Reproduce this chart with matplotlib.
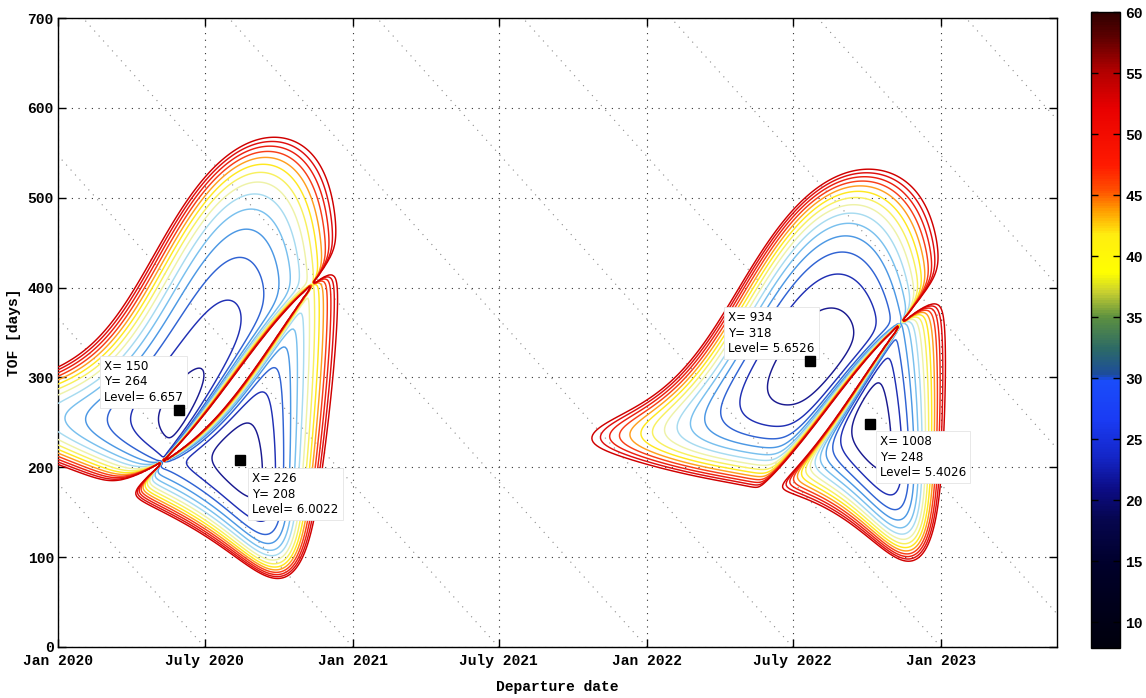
# -*- coding: utf-8 -*-
"""
Earth -> Mars porkchop plot, arrival C3 [km^2/s^2] vs departure date and TOF
"""
import numpy as np
import matplotlib
matplotlib.use('Agg')
import matplotlib.pyplot as plt
from matplotlib.colors import LinearSegmentedColormap, Normalize
from matplotlib.cm import ScalarMappable

# ---- data -------------------------------------------------------------
start_date = '2020-01-01'
tick_dates = ['2020-01-01', '2020-07-01', '2021-01-01', '2021-07-01',
              '2022-01-01', '2022-07-01', '2023-01-01']
tick_labels = ['Jan 2020', 'July 2020', 'Jan 2021', 'July 2021',
               'Jan 2022', 'July 2022', 'Jan 2023']
# arrival date guide lines (departure + tof = const)
arrival_dates = ['2020-07-01', '2021-01-01', '2021-07-01', '2022-01-01', '2022-07-01',
                 '2023-01-01', '2023-07-01', '2024-01-01', '2024-07-01', '2025-01-01']

c3_levels = [8, 12, 16, 20, 24, 28, 32, 36, 40, 44, 48, 52, 56, 60]

tip_x = [150, 226, 934, 1008]
tip_y = [264, 208, 318, 248]
tip_level = ['6.657', '6.0022', '5.6526', '5.4026']

# mean orbital elements (J2000) a[AU], e, i, L, long.peri, long.node [deg] and rates per century
earth_el = [1.00000261, 0.01671123, -0.00001531, 100.46457166, 102.93768193, 0.0]
earth_rate = [0.00000562, -0.00004392, -0.01294668, 35999.37244981, 0.32327364, 0.0]
mars_el = [1.52371034, 0.09339410, 1.84969142, -4.55343205, -23.94362959, 49.55953891]
mars_rate = [0.00001847, 0.00007882, -0.00813131, 19140.30268499, 0.44441088, -0.29257343]

MU = 0.01720209895**2          # AU^3/day^2
AU_DAY_KMS = 149597870.7 / 86400.0
J2000 = 2451545.0
EPOCH_JD = 2458849.5           # 2020-01-01


def days(d):
    return (np.datetime64(d) - np.datetime64(start_date)).astype(int)


def state(el, rate, day):
    T = (EPOCH_JD + day - J2000) / 36525.0
    a, e, inc, L, wbar, node = [el[k] + rate[k] * T for k in range(6)]
    inc, L, wbar, node = np.radians(inc), np.radians(L), np.radians(wbar), np.radians(node)
    M = np.mod(L - wbar, 2 * np.pi)
    w = wbar - node
    E = M.copy()
    for _ in range(20):
        E = E - (E - e * np.sin(E) - M) / (1 - e * np.cos(E))
    n = np.sqrt(MU / a**3)
    xp = a * (np.cos(E) - e)
    yp = a * np.sqrt(1 - e**2) * np.sin(E)
    Ed = n / (1 - e * np.cos(E))
    vxp = -a * np.sin(E) * Ed
    vyp = a * np.sqrt(1 - e**2) * np.cos(E) * Ed
    cw, sw, cO, sO, ci, si = np.cos(w), np.sin(w), np.cos(node), np.sin(node), np.cos(inc), np.sin(inc)
    P = np.stack([cw * cO - sw * sO * ci, cw * sO + sw * cO * ci, sw * si], -1)
    Q = np.stack([-sw * cO - cw * sO * ci, -sw * sO + cw * cO * ci, cw * si], -1)
    r = xp[..., None] * P + yp[..., None] * Q
    v = vxp[..., None] * P + vyp[..., None] * Q
    return r, v


def stumpff(z):
    s = np.sqrt(np.abs(z))
    zs = np.where(np.abs(z) < 1e-6, 1.0, z)
    ss = np.where(s < 1e-3, 1.0, s)
    C = np.where(z > 1e-6, (1 - np.cos(s)) / zs, np.where(z < -1e-6, (np.cosh(s) - 1) / (-zs), 0.5))
    S = np.where(z > 1e-6, (ss - np.sin(ss)) / ss**3,
                 np.where(z < -1e-6, (np.sinh(ss) - ss) / ss**3, 1 / 6.0))
    return C, S


# ---- lambert grid -----------------------------------------------------
dep = np.arange(0, 1241, 2.0)
tof = np.arange(2, 701, 2.0)
D, TT = np.meshgrid(dep, tof)

rE, vE = state(earth_el, earth_rate, dep)
rM, vM = state(mars_el, mars_rate, D + TT)
r1 = np.broadcast_to(rE[None], rM.shape)
R1 = np.linalg.norm(r1, axis=-1)
R2 = np.linalg.norm(rM, axis=-1)
cz = r1[..., 0] * rM[..., 1] - r1[..., 1] * rM[..., 0]
cth = np.clip(np.sum(r1 * rM, -1) / (R1 * R2), -1, 1)
dth = np.where(cz >= 0, np.arccos(cth), 2 * np.pi - np.arccos(cth))
A = np.sin(dth) * np.sqrt(R1 * R2 / (1 - np.cos(dth)))


def tof_z(z):
    C, S = stumpff(z)
    y = R1 + R2 + A * (z * S - 1) / np.sqrt(C)
    yp = np.where(y > 0, y, 1.0)
    t = ((yp / C)**1.5 * S + A * np.sqrt(yp)) / np.sqrt(MU)
    return np.where(y > 0, t, -np.inf), y


with np.errstate(all='ignore'):
    lo = np.full(D.shape, -60.0)
    hi = np.full(D.shape, 4 * np.pi**2 - 1e-6)
    bad = tof_z(lo)[0] > TT
    for _ in range(48):
        mid = 0.5 * (lo + hi)
        t, _y = tof_z(mid)
        m = t < TT
        lo = np.where(m, mid, lo)
        hi = np.where(m, hi, mid)
    z = 0.5 * (lo + hi)
    t, y = tof_z(z)
    g = A * np.sqrt(y / MU)
    gd = 1 - y / R2
    v2 = (gd[..., None] * rM - r1) / g[..., None]
    vinf = np.linalg.norm(v2 - vM, axis=-1) * AU_DAY_KMS
    c3 = vinf**2
    c3 = np.where(bad | ~np.isfinite(c3), 1e4, c3)

# ---- colours ----------------------------------------------------------
cb_cmap = LinearSegmentedColormap.from_list('scan', [
    (0.0, '#00000c'), (0.13, '#00002a'), (0.2, '#06064e'), (0.25, '#0c0c86'),
    (0.3, '#1426c8'), (0.36, '#1a3cf4'), (0.42, '#1a4cfa'), (0.43, '#1c4c9c'),
    (0.47, '#2c6a66'), (0.52, '#5c9040'), (0.56, '#c8d030'), (0.59, '#ffff00'),
    (0.65, '#ffee10'), (0.69, '#ff9a00'), (0.72, '#ff5000'), (0.76, '#ff1a00'),
    (0.85, '#e80000'), (0.91, '#b00000'), (0.96, '#600000'), (1.0, '#300000')])
line_cmap = LinearSegmentedColormap.from_list('lines', [
    (0.0, '#1a1a90'), (0.079, '#2030b4'), (0.155, '#3064d4'), (0.232, '#4c98e4'),
    (0.309, '#78c0ee'), (0.386, '#a8dcf0'), (0.463, '#eef2a8'), (0.539, '#f8f060'),
    (0.616, '#ffe820'), (0.693, '#ffa020'), (0.77, '#f84018'), (0.846, '#ec2010'),
    (0.923, '#e01010'), (1.0, '#d00000')])
norm = Normalize(vmin=7.9, vmax=60)

mono = 'Liberation Mono'
sans = 'DejaVu Sans'

fig = plt.figure(figsize=(11.46, 6.98), dpi=100)
ax = fig.add_axes([0.0506, 0.0731, 0.8717, 0.9011])

ax.contour(D, TT, c3, levels=c3_levels, cmap=line_cmap, norm=norm, linewidths=1.05, zorder=3)

# arrival date guide lines
for ad in arrival_dates:
    c = days(ad)
    ax.plot([c, c - 800], [0, 800], color='#8a8a8a', lw=0.8, ls=(0, (1, 5)), zorder=1)

ax.set_xlim(0, 1240)
ax.set_ylim(0, 700)
ax.set_xticks([days(d) for d in tick_dates])
ax.set_xticklabels(tick_labels)
ax.set_yticks([0, 100, 200, 300, 400, 500, 600, 700])
ax.grid(True, color='#303030', lw=0.8, ls=(0, (1, 5)), zorder=0)
ax.tick_params(direction='in', length=6, width=1, top=True, right=True)
ax.tick_params(axis='x', pad=5)
ax.tick_params(axis='y', pad=3)
for lab in ax.get_xticklabels() + ax.get_yticklabels():
    lab.set_fontfamily(mono)
    lab.set_fontweight('bold')
    lab.set_fontsize(10.5)
for sp in ax.spines.values():
    sp.set_linewidth(1.0)
ax.set_xlabel('Departure date', fontfamily=mono, fontweight='bold', fontsize=10.5, labelpad=9)
ax.set_ylabel('TOF [days]', fontfamily=mono, fontweight='bold', fontsize=10.5, labelpad=5)

# data tips
offs = [(-75, 50), (12, -12), (-82, 50), (10, -11)]
for x, y, lev, off in zip(tip_x, tip_y, tip_level, offs):
    ax.plot(x, y, 's', color='black', ms=7, zorder=6)
    ax.annotate('X= %d\nY= %d\nLevel= %s' % (x, y, lev), (x, y), xytext=off,
                textcoords='offset pixels', ha='left', va='top', fontsize=8.6,
                fontfamily=sans, linespacing=1.25, zorder=5,
                bbox=dict(boxstyle='square,pad=0.35', fc='white', ec='#e4e4e4', lw=0.6))

# colorbar
cax = fig.add_axes([0.952, 0.0716, 0.0253, 0.911])
cb = fig.colorbar(ScalarMappable(norm=norm, cmap=cb_cmap), cax=cax)
cb.set_ticks([10, 15, 20, 25, 30, 35, 40, 45, 50, 55, 60])
cb.outline.set_linewidth(1.0)
cax.tick_params(direction='in', length=5, width=1, left=True, right=True, pad=4)
for lab in cax.get_yticklabels():
    lab.set_fontfamily(mono)
    lab.set_fontweight('bold')
    lab.set_fontsize(10.5)

fig.savefig('out.png', dpi=100)
